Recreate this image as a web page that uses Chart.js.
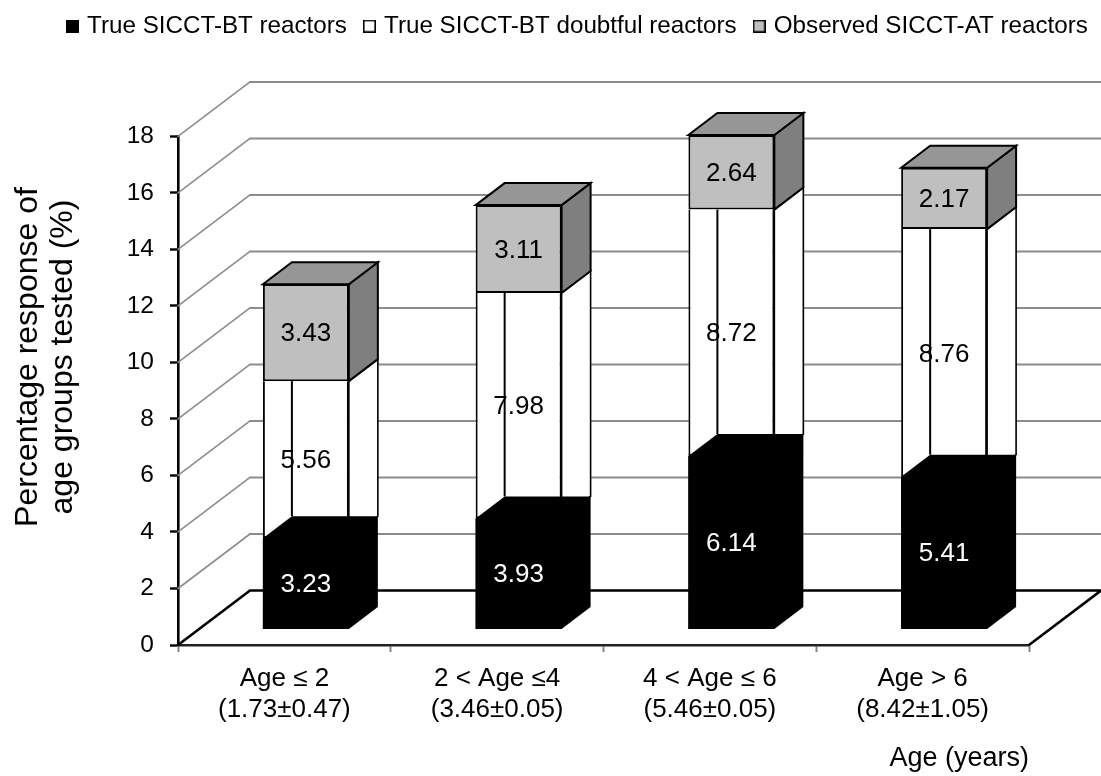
<!DOCTYPE html>
<html><head><meta charset="utf-8">
<style>html,body{margin:0;padding:0;background:#fff}canvas{display:block}</style>
<script src="https://cdn.jsdelivr.net/npm/chart.js@4"></script>
</head><body><canvas id="c" width="1101" height="776"></canvas>
<script>
const categories=[["Age ≤ 2","(1.73±0.47)"],["2 < Age ≤4","(3.46±0.05)"],["4 < Age ≤ 6","(5.46±0.05)"],["Age > 6","(8.42±1.05)"]];
const reactors=[3.23,3.93,6.14,5.41];
const doubtful=[5.56,7.98,8.72,8.76];
const observed=[3.43,3.11,2.64,2.17];
const seriesNames=["True SICCT-BT reactors","True SICCT-BT doubtful reactors","Observed SICCT-AT reactors"];
const seriesFills=['#000','#fff','#bfbfbf'];
const yTitleLines=["Percentage response of","age groups tested (%)"];
const FF='"Liberation Sans", Arial, sans-serif';
const WALL={dx:72,dy:54.5}, SHIFT={dx:21.5,dy:-15.5}, DEPTH={dx:29,dy:22};
function swatch(fill){const c=document.createElement('canvas');c.width=13;c.height=13;const x=c.getContext('2d');
  x.fillStyle=fill;x.fillRect(0,0,13,13);x.strokeStyle='#000';x.lineWidth=1.6;x.strokeRect(.8,.8,11.4,11.4);return c;}
function poly(ctx,pts,fill,stroke,lw){ctx.beginPath();pts.forEach((p,i)=>i?ctx.lineTo(p[0],p[1]):ctx.moveTo(p[0],p[1]));ctx.closePath();
  if(fill){ctx.fillStyle=fill;ctx.fill();} if(stroke){ctx.strokeStyle=stroke;ctx.lineWidth=lw;ctx.lineJoin='miter';ctx.stroke();}}
function seg(ctx,x1,y1,x2,y2,c,lw){ctx.beginPath();ctx.moveTo(x1,y1);ctx.lineTo(x2,y2);ctx.strokeStyle=c;ctx.lineWidth=lw;ctx.stroke();}
const scene={id:'scene',
 afterLayout(chart){const l=chart.legend; l.left=50; l.right=1300; l.top=-6;},
 beforeDatasetsDraw(chart){const ctx=chart.ctx,{x,y}=chart.scales,a=chart.chartArea;
  ctx.save();ctx.lineCap='round';
  y.ticks.forEach(t=>{ if(t.value===0) return; const py=y.getPixelForValue(t.value);
    seg(ctx,a.left,py,a.left+WALL.dx,py-WALL.dy,'#8c8c8c',1.6);
    seg(ctx,a.left+WALL.dx,py-WALL.dy,1101,py-WALL.dy,'#8c8c8c',2);});
  const y0=y.getPixelForValue(0);
  ctx.lineCap='butt';
  ctx.beginPath();ctx.moveTo(a.left,y0);ctx.lineTo(a.left+WALL.dx,y0-WALL.dy);ctx.lineTo(a.right+WALL.dx,y0-WALL.dy);ctx.lineTo(a.right,y0);
  ctx.strokeStyle='#000';ctx.lineWidth=2.6;ctx.lineJoin='miter';ctx.stroke();
  ctx.restore();
  ctx.save();
  ctx.translate(SHIFT.dx,SHIFT.dy);
 },
 afterDatasetsDraw(chart){const ctx=chart.ctx;
  const m=[0,1,2].map(i=>chart.getDatasetMeta(i).data.map(e=>e.getProps(['x','y','base','width'],true)));
  const d=DEPTH;
  categories.forEach((_,i)=>{
   const k=m[0][i],w=m[1][i],g=m[2][i],L=k.x-k.width/2,R=k.x+k.width/2;
   poly(ctx,[[R,w.y],[R+d.dx,w.y-d.dy],[R+d.dx,w.base-d.dy],[R,w.base]],'#fff','#000',1.6);
   seg(ctx,L+d.dx,w.base-d.dy,L+d.dx,w.y,'#000',2);
   poly(ctx,[[L,k.y],[L+d.dx,k.y-d.dy],[R+d.dx,k.y-d.dy],[R+d.dx,k.base-d.dy],[R,k.base],[L,k.base]],'#000');
   poly(ctx,[[R,g.y],[R+d.dx,g.y-d.dy],[R+d.dx,g.base-d.dy],[R,g.base]],'#7f7f7f','#000',2);
   poly(ctx,[[L,g.y],[L+d.dx,g.y-d.dy],[R+d.dx,g.y-d.dy],[R,g.y]],'#969696','#000',2);
   ctx.textAlign='center';ctx.textBaseline='middle';ctx.font='26px '+FF;
   [[k,reactors,'#fff'],[w,doubtful,'#000'],[g,observed,'#000']].forEach(([e,arr,c])=>{
     ctx.fillStyle=c;ctx.fillText(arr[i].toFixed(2),e.x,(e.y+e.base)/2+1.5);});
  });
  ctx.restore();
  ctx.save();ctx.fillStyle='#000';ctx.font='32px '+FF;ctx.textAlign='center';ctx.textBaseline='alphabetic';
  ctx.translate(0,357);ctx.rotate(-Math.PI/2);
  yTitleLines.forEach((t,i)=>ctx.fillText(t,0,37+i*35));
  ctx.restore();
 }};
new Chart(document.getElementById('c'),{
 type:'bar',
 data:{labels:categories,datasets:[
  {label:seriesNames[0],data:reactors,backgroundColor:seriesFills[0],borderColor:'#000',borderWidth:0},
  {label:seriesNames[1],data:doubtful,backgroundColor:seriesFills[1],borderColor:'#000',borderWidth:2,borderSkipped:'top'},
  {label:seriesNames[2],data:observed,backgroundColor:seriesFills[2],borderColor:'#000',borderWidth:2,borderSkipped:false}
 ].map(s=>Object.assign(s,{clip:false,categoryPercentage:1,barPercentage:0.404}))},
 options:{responsive:false,animation:false,
  layout:{autoPadding:false,padding:{top:38,right:72,bottom:0,left:0}},
  plugins:{tooltip:{enabled:false},
   legend:{position:'top',align:'start',labels:{font:{family:FF,size:24.2},color:'#000',usePointStyle:true,pointStyleWidth:5,boxHeight:12,padding:20,
     generateLabels(){return seriesNames.map((t,i)=>({text:t,fontColor:'#000',pointStyle:swatch(seriesFills[i]),datasetIndex:i,hidden:false,lineWidth:0}));}}}},
  scales:{
   x:{stacked:true,
      border:{color:'#222',width:2.4},
      grid:{drawOnChartArea:false,drawTicks:true,tickLength:7,tickColor:'#868686',tickWidth:2},
      ticks:{color:'#000',font:{family:FF,size:26,lineHeight:1.2},padding:11,maxRotation:0,autoSkip:false},
      title:{display:true,text:'Age (years)',align:'end',color:'#000',font:{family:FF,size:27},padding:{top:0,bottom:1}},
      afterFit(s){s.height=131;}},
   y:{stacked:true,min:0,max:18,
      border:{color:'#000',width:2.6},
      grid:{drawOnChartArea:false,drawTicks:true,tickLength:8,tickColor:'#000',tickWidth:2.4},
      ticks:{stepSize:2,color:'#000',font:{family:FF,size:24.5},padding:16},
      afterFit(s){s.width=178;}}
  }},
 plugins:[scene]});
</script></body></html>
